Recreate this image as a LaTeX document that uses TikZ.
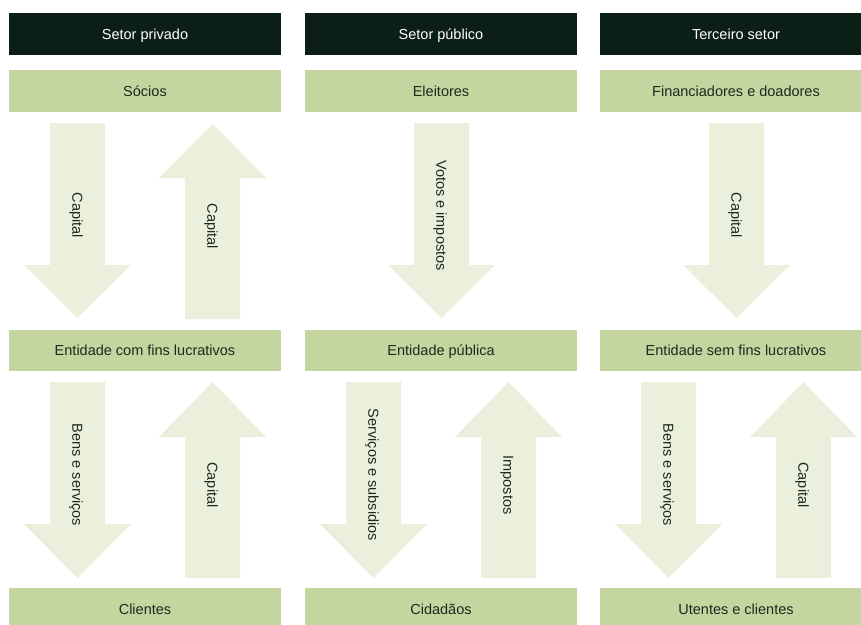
\documentclass[tikz,border=0pt]{standalone}
\usepackage{fontspec}
\setmainfont{Liberation Sans}
\definecolor{hdr}{HTML}{0B1F16}
\definecolor{boxg}{HTML}{C5D5A0}
\definecolor{arr}{HTML}{EAF0DB}
\definecolor{txt}{HTML}{1C2A1E}
\tikzset{
  fnt/.style={font=\fontsize{14.5}{17}\selectfont, text height=10.4pt, text depth=0pt},
  hdrbox/.style={fill=hdr, text=white, minimum width=272pt, minimum height=42pt, inner sep=0pt, fnt},
  grnbox/.style={fill=boxg, text=txt, minimum width=272pt, minimum height=42pt, inner sep=0pt, fnt},
  lbl/.style={text=txt, inner sep=0pt, fnt},
}
% down block arrow: name, cx, top, headbase, tip, label
\newcommand\DArr[6]{%
  \fill[arr] ({#2-27.5},#3) -- ({#2+27.5},#3) -- ({#2+27.5},#4) -- ({#2+53.5},#4) -- (#2,#5) -- ({#2-53.5},#4) -- ({#2-27.5},#4) -- cycle;
  \node[lbl, rotate=-90] (#1) at (#2,{(#3+#5)/2-5}) {#6};
}
% up block arrow: name, cx, tip, headbase, bottom, label
\newcommand\UArr[6]{%
  \fill[arr] ({#2-27.5},#5) -- ({#2+27.5},#5) -- ({#2+27.5},#4) -- ({#2+53.5},#4) -- (#2,#3) -- ({#2-53.5},#4) -- ({#2-27.5},#4) -- cycle;
  \node[lbl, rotate=-90] (#1) at (#2,{(#3+#5)/2+5}) {#6};
}
\begin{document}
\begin{tikzpicture}[x=1pt, y=-1pt]
\useasboundingbox (0,0) rectangle (861,624);
\clip (0,0) rectangle (861,624);
% headers
\node[hdrbox] (h1) at (145,34) {Setor privado};
\node[hdrbox] (h2) at (441,34) {Setor público};
\node[hdrbox] (h3) at (736,34) {Terceiro setor};
% top row
\node[grnbox] (t1) at (145,91) {Sócios};
\node[grnbox] (t2) at (441,91) {Eleitores};
\node[grnbox] (t3) at (736,91) {Financiadores e doadores};
% middle row
\node[grnbox, minimum height=41pt] (m1) at (145,350.5) {Entidade com fins lucrativos};
\node[grnbox, minimum height=41pt] (m2) at (441,350.5) {Entidade pública};
\node[grnbox, minimum height=41pt] (m3) at (736,350.5) {Entidade sem fins lucrativos};
% bottom row
\node[grnbox] (b1) at (145,609) {Clientes};
\node[grnbox] (b2) at (441,609) {Cidadãos};
\node[grnbox] (b3) at (736,609) {Utentes e clientes};
% upper arrows
\DArr{a1}{77.5}{123}{265}{318}{Capital}
\UArr{a2}{212.5}{124}{178}{319}{Capital}
\DArr{a3}{441.5}{123}{265}{318}{Votos e impostos}
\DArr{a4}{736.5}{123}{265}{318}{Capital}
% lower arrows
\DArr{c1}{77.5}{382}{524}{578}{Bens e serviços}
\UArr{c2}{212.5}{382}{437}{578}{Capital}
\DArr{c3}{373.5}{382}{524}{578}{Serviços e subsidios}
\UArr{c4}{508.5}{382}{437}{578}{Impostos}
\DArr{c5}{668.5}{382}{524}{578}{Bens e serviços}
\UArr{c6}{803.5}{382}{437}{578}{Capital}
\end{tikzpicture}
\end{document}
